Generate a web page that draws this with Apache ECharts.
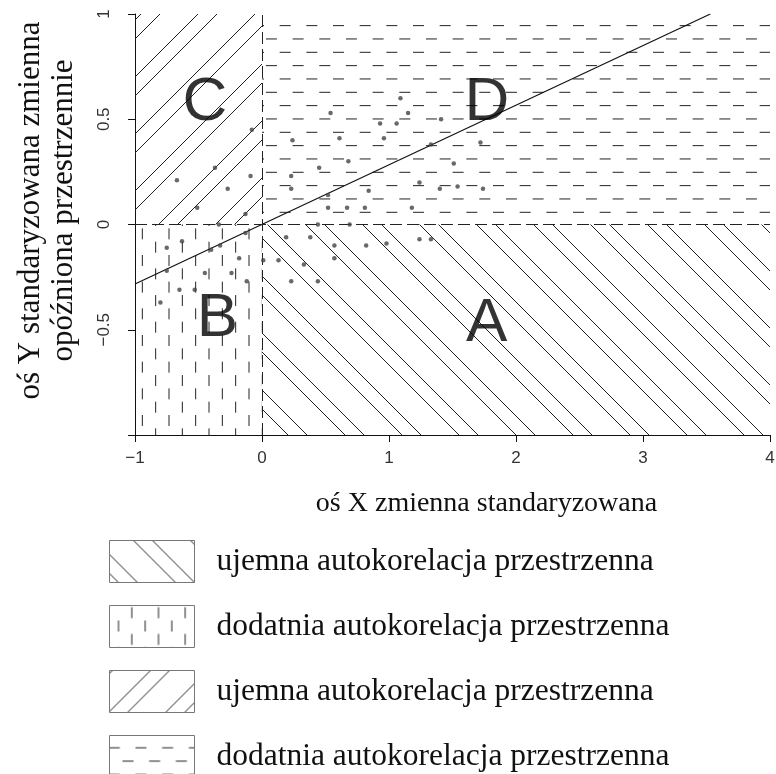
<!DOCTYPE html>
<html>
<head>
<meta charset="utf-8">
<script src="https://cdn.jsdelivr.net/npm/echarts@6/dist/echarts.min.js"></script>
<style>
  html, body { margin: 0; padding: 0; background: #fff; }
  #chart { width: 776px; height: 774px; }
</style>
</head>
<body>
<div id="chart"></div>
<script>
// punkty: zmienna standaryzowana (x) i opóźniona przestrzennie (y)
const pointX = [-0.08, -0.37, -0.67, -0.09, -0.27, -0.51, -0.13, -0.34, -0.63, -0.75,
  -0.13, -0.33, -0.40, -0.18, 0.01, 0.13, -0.75, -0.45, -0.24, -0.12,
  -0.65, -0.53, -0.80, 1.09, 0.54, 1.15, 1.41, 0.93, 1.06, 0.24,
  0.61, 0.96, 1.33, 0.68, 1.51, 0.45, 0.23, 1.24, 0.23, 1.40,
  1.54, 0.84, 0.52, 0.52, 0.67, 0.81, 1.18, 0.44, 0.69, 0.19,
  0.38, 1.24, 1.33, 0.57, 0.82, 0.98, 0.33, 0.57, 0.23, 0.44,
  1.72, 1.74]
const pointY = [0.45, 0.27, 0.21, 0.23, 0.17, 0.08, 0.05, 0.00, -0.08, -0.11,
  -0.04, -0.10, -0.12, -0.16, -0.17, -0.17, -0.22, -0.23, -0.23, -0.27,
  -0.31, -0.31, -0.37, 0.60, 0.53, 0.53, 0.50, 0.48, 0.48, 0.40,
  0.41, 0.41, 0.38, 0.30, 0.29, 0.27, 0.23, 0.20, 0.17, 0.17,
  0.18, 0.16, 0.14, 0.08, 0.08, 0.08, 0.08, 0.00, 0.00, -0.06,
  -0.06, -0.07, -0.07, -0.10, -0.10, -0.09, -0.19, -0.16, -0.27, -0.27,
  0.39, 0.17]

// linia regresji
const lineX = [-1, 3.53]
const lineY = [-0.283, 1]

// ćwiartki A, B, C, D
const quadNames = ['A', 'B', 'C', 'D']
const quadX0 = [0, -1, -1, 0]
const quadX1 = [4, 0, 0, 4]
const quadY0 = [-1, -1, 0, 0]
const quadY1 = [0, 0, 1, 1]
const quadLabelX = [1.77, -0.35, -0.45, 1.77]
const quadLabelY = [-0.47, -0.45, 0.58, 0.58]
const legendText = ['ujemna autokorelacja przestrzenna', 'dodatnia autokorelacja przestrzenna',
  'ujemna autokorelacja przestrzenna', 'dodatnia autokorelacja przestrzenna']

const fmtNum = v => String(v).replace('-', '\u2212')

// wzory kreskowania
const makePattern = (kind) => {
  const c = document.createElement('canvas')
  const ctx = c.getContext('2d')
  if (kind === 'A' || kind === 'C') {
    const P = 57
    c.width = P; c.height = P
    ctx.strokeStyle = '#222'
    ctx.lineWidth = 1
    const offs = kind === 'A' ? [14, 33] : [3, 41]
    for (let k = -2; k <= 2; k++) {
      offs.forEach(o => {
        const cc = o + k * P
        ctx.beginPath()
        if (kind === 'A') { ctx.moveTo(0, cc); ctx.lineTo(P, cc + P) }
        else { ctx.moveTo(0, cc); ctx.lineTo(P, cc - P) }
        ctx.stroke()
      })
    }
  } else {
    const S = 80, g = 80 / 6, per = 80 / 3, len = 11
    c.width = S; c.height = S
    ctx.strokeStyle = '#222'
    ctx.lineWidth = 1
    for (let i = 0; i < 6; i++) {
      for (let j = -1; j <= 3; j++) {
        ctx.beginPath()
        if (kind === 'B') {
          const x = 9 + i * g
          const s = (i % 2 === 0 ? 15 : 1.7) + j * per
          ctx.moveTo(x, s); ctx.lineTo(x, s + len)
        } else {
          const y = 12.3 + i * g
          const s = (i % 2 === 0 ? -0.7 : 13) + j * per
          ctx.moveTo(s, y); ctx.lineTo(s + len, y)
        }
        ctx.stroke()
      }
    }
  }
  return { image: c, repeat: 'repeat' }
}

const chart = echarts.init(document.getElementById('chart'))

const quadSeries = quadNames.map((n, i) => {
  const pat = makePattern(n)
  return {
    name: 'q' + n,
    type: 'custom',
    silent: true,
    z: 1,
    itemStyle: { color: pat, borderColor: '#777', borderWidth: 1 },
    encode: { x: [0, 1], y: [2, 3] },
    data: [[quadX0[i], quadX1[i], quadY0[i], quadY1[i]]],
    renderItem: (params, api) => {
      const p0 = api.coord([api.value(0), api.value(3)])
      const p1 = api.coord([api.value(1), api.value(2)])
      return {
        type: 'rect',
        shape: { x: p0[0], y: p0[1], width: p1[0] - p0[0], height: p1[1] - p0[1] },
        style: { fill: pat }
      }
    }
  }
})

const option = {
  animation: false,
  grid: { left: 135, right: 6, top: 14, bottom: 339, containLabel: false, outerBoundsMode: 'none' },
  xAxis: {
    type: 'value', min: -1, max: 4, interval: 1,
    name: 'oś X zmienna standaryzowana',
    nameLocation: 'middle', nameGap: 55,
    nameTextStyle: { fontFamily: 'Liberation Serif', fontSize: 28, color: '#111', padding: [0, 0, 0, 68] },
    axisLine: { show: true, onZero: false, lineStyle: { color: '#111', width: 1 } },
    axisTick: { show: true, length: 7, lineStyle: { color: '#111' } },
    axisLabel: { margin: 15, fontFamily: 'Liberation Sans', fontSize: 17, color: '#333', formatter: fmtNum },
    splitLine: { show: false }
  },
  yAxis: {
    type: 'value', min: -1, max: 1, interval: 0.5,
    name: 'oś Y standaryzowana zmienna\nopóźniona przestrzennie',
    nameLocation: 'middle', nameGap: 55, nameRotate: 90,
    nameTextStyle: { fontFamily: 'Liberation Serif', fontSize: 31, lineHeight: 33, color: '#111', padding: [0, 0, 0, 28] },
    axisLine: { show: true, onZero: false, lineStyle: { color: '#111', width: 1 } },
    axisTick: { show: true, length: 7, lineStyle: { color: '#111' } },
    axisLabel: {
      margin: 22, rotate: 90, fontFamily: 'Liberation Sans', fontSize: 17, color: '#333',
      formatter: v => (v === -1 ? '' : fmtNum(v))
    },
    splitLine: { show: false }
  },
  legend: {
    orient: 'vertical', left: 109, top: 540, padding: 0,
    width: 600, height: 300,
    itemWidth: 85, itemHeight: 42, itemGap: 22,
    icon: 'rect',
    data: quadNames.map(n => 'q' + n),
    formatter: name => legendText[quadNames.indexOf(name.slice(1))],
    itemStyle: { borderColor: '#777', borderWidth: 1 },
    textStyle: { fontFamily: 'Liberation Serif', fontSize: 31.5, color: '#111', padding: [0, 0, 0, 17] },
    selectedMode: false
  },
  series: [
    ...quadSeries,
    {
      name: 'granice',
      type: 'line',
      data: [],
      silent: true,
      z: 3,
      markLine: {
        symbol: 'none', silent: true, label: { show: false },
        lineStyle: { color: '#222', width: 1, type: [12, 5] },
        data: [{ xAxis: 0 }, { yAxis: 0 }]
      }
    },
    {
      name: 'regresja',
      type: 'line',
      symbol: 'none',
      z: 4,
      lineStyle: { color: '#111', width: 1.2 },
      data: lineX.map((x, i) => [x, lineY[i]])
    },
    {
      name: 'punkty',
      type: 'scatter',
      symbolSize: 4.5,
      z: 5,
      itemStyle: { color: '#444' },
      data: pointX.map((x, i) => [x, pointY[i]])
    },
    {
      name: 'litery',
      type: 'scatter',
      symbolSize: 0,
      z: 6,
      silent: true,
      label: {
        show: true, position: 'inside', formatter: p => p.name,
        fontFamily: 'Liberation Sans', fontSize: 62, color: '#000'
      },
      data: quadNames.map((n, i) => ({ name: n, value: [quadLabelX[i], quadLabelY[i]] }))
    }
  ]
}
option && chart.setOption(option)
</script>
</body>
</html>
